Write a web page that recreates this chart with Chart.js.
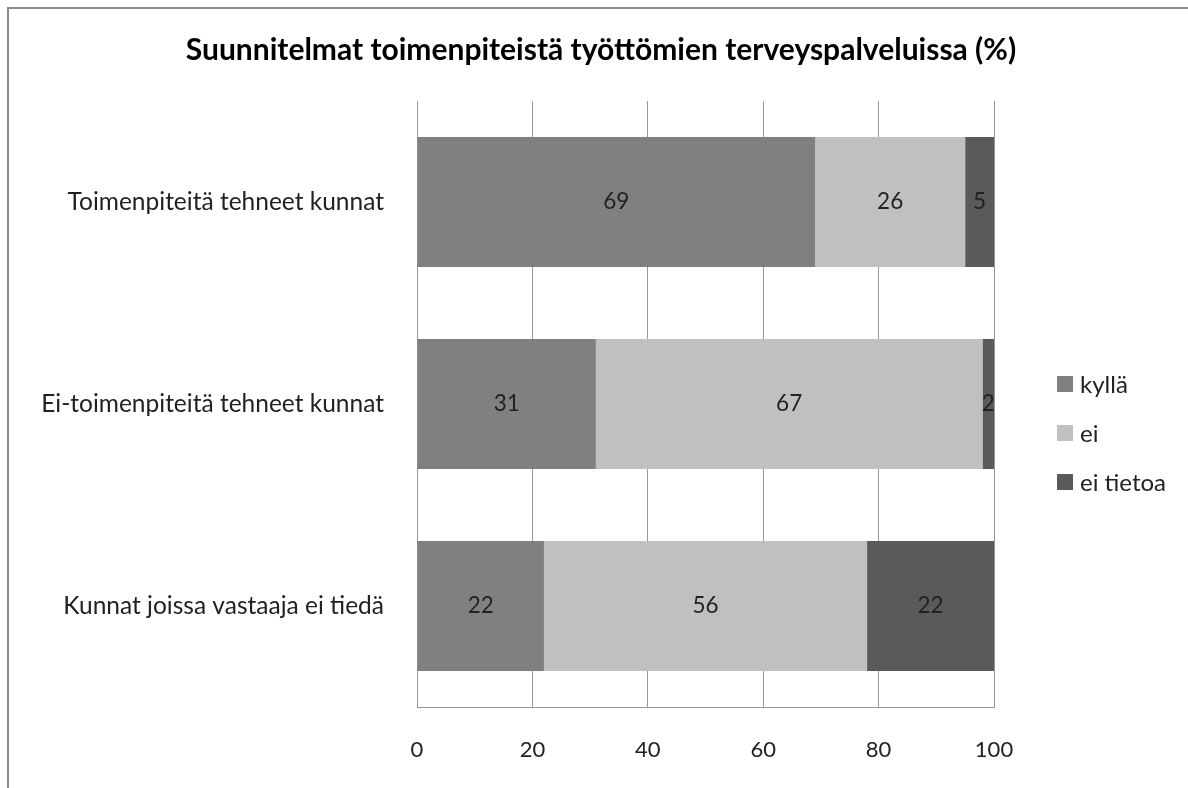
<!DOCTYPE html>
<html>
<head>
<meta charset="utf-8">
<script src="https://cdn.jsdelivr.net/npm/chart.js@4.4.1/dist/chart.umd.min.js"></script>
<style>
  html, body { margin: 0; padding: 0; background: #fff; }
  body { width: 1188px; height: 788px; position: relative; overflow: hidden; font-family: Lato, sans-serif; }
  #frame { position: absolute; left: 7px; top: 7px; width: 1300px; height: 900px; border: 2px solid #8a8a8a; }
  #wrap { position: absolute; left: 0; top: 0; width: 1188px; height: 788px; }
  #legend { position: absolute; left: 1057px; top: 359px; }
  .item { display: flex; align-items: center; height: 49px; font-size: 24px; color: #222; }
  .box { width: 16px; height: 16px; margin-right: 7px; }
</style>
</head>
<body>
<div id="frame"></div>
<div id="wrap"><canvas id="chart" width="1188" height="788"></canvas></div>
<div id="legend"></div>
<script>
const categories = ['Toimenpiteitä tehneet kunnat', 'Ei-toimenpiteitä tehneet kunnat', 'Kunnat joissa vastaaja ei tiedä'];
const kylla = [69, 31, 22];
const ei = [26, 67, 56];
const eiTietoa = [5, 2, 22];
const seriesNames = ['kyllä', 'ei', 'ei tietoa'];
const seriesColors = ['#808080', '#c0c0c0', '#5a5a5a'];
const xTicks = [0, 20, 40, 60, 80, 100];

// value labels in the middle of each bar segment
const barLabels = {
    id: 'barLabels',
    afterDatasetsDraw(chart) {
        const ctx = chart.ctx;
        ctx.save();
        ctx.font = '22.5px Lato';
        ctx.fillStyle = '#222';
        ctx.textAlign = 'center';
        ctx.textBaseline = 'middle';
        chart.data.datasets.forEach((ds, i) => {
            chart.getDatasetMeta(i).data.forEach((bar, j) => {
                const x = (bar.x + bar.base) / 2;
                ctx.fillText(ds.data[j], x, bar.y);
            });
        });
        ctx.restore();
    }
};

const chart = new Chart(document.getElementById('chart'), {
    type: 'bar',
    data: {
        labels: categories,
        datasets: [
            { label: seriesNames[0], data: kylla, backgroundColor: seriesColors[0] },
            { label: seriesNames[1], data: ei, backgroundColor: seriesColors[1] },
            { label: seriesNames[2], data: eiTietoa, backgroundColor: seriesColors[2] }
        ]
    },
    options: {
        indexAxis: 'y',
        responsive: false,
        animation: false,
        layout: { padding: { left: 14, right: 0, top: 0, bottom: 0 } },
        datasets: { bar: { barPercentage: 0.644, categoryPercentage: 1 } },
        scales: {
            x: {
                stacked: true,
                min: 0,
                max: 100,
                afterBuildTicks: s => { s.ticks = xTicks.map(v => ({ value: v })); },
                afterFit: s => { s.height = 81; },
                grid: { color: '#979797', lineWidth: 1, drawTicks: false },
                border: { display: true, color: '#979797', width: 1 },
                ticks: { color: '#222', font: { family: 'Lato', size: 22 }, padding: 30 }
            },
            y: {
                stacked: true,
                afterFit: s => { s.width = 403; },
                grid: { display: false, drawTicks: false },
                border: { display: true, color: '#979797', width: 1 },
                ticks: { color: '#222', font: { family: 'Lato', size: 24.5 }, padding: 33 }
            },
            // empty right axis that keeps room for the legend
            yRight: {
                type: 'category',
                position: 'right',
                afterFit: s => { s.width = 194; },
                grid: { display: false, drawTicks: false },
                border: { display: false },
                ticks: { display: false }
            }
        },
        plugins: {
            legend: { display: false },
            tooltip: { enabled: false },
            title: {
                display: true,
                text: 'Suunnitelmat toimenpiteistä työttömien terveyspalveluissa (%)',
                color: '#000',
                font: { family: 'Lato', size: 30, weight: 'bold' },
                padding: { top: 32, bottom: 33 }
            }
        }
    },
    plugins: [barLabels]
});

const legend = document.getElementById('legend');
chart.data.datasets.forEach(ds => {
    const item = document.createElement('div');
    item.className = 'item';
    const box = document.createElement('span');
    box.className = 'box';
    box.style.background = ds.backgroundColor;
    item.appendChild(box);
    item.appendChild(document.createTextNode(ds.label));
    legend.appendChild(item);
});
</script>
</body>
</html>
